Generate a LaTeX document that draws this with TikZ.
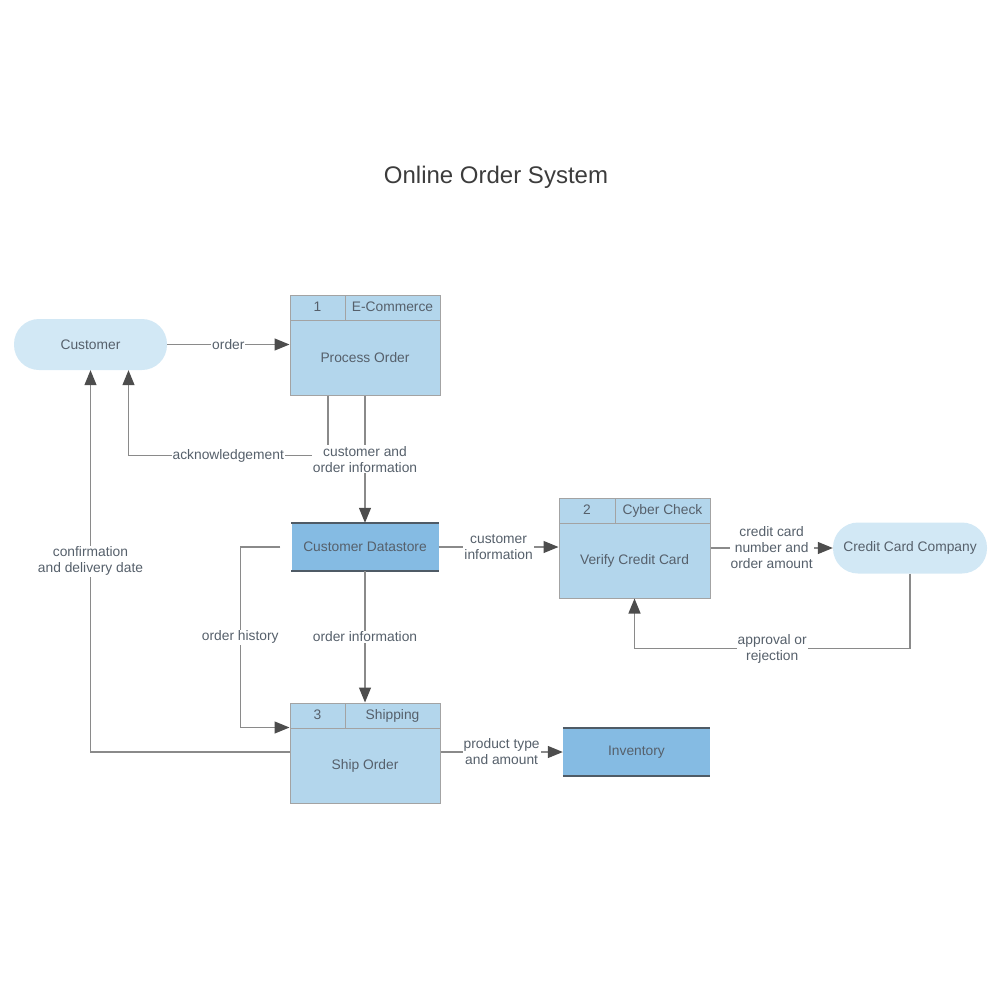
\documentclass[tikz,border=0pt]{standalone}
\usepackage{fontspec}
\setmainfont{Liberation Sans}
\usepackage{tikz}
\usetikzlibrary{arrows.meta,positioning,calc}
\usepackage{xcolor}
\definecolor{pillblue}{HTML}{D2E8F5}
\definecolor{procblue}{HTML}{B3D6EC}
\definecolor{storeblue}{HTML}{85BBE3}
\definecolor{boxgray}{HTML}{A3A3A3}
\definecolor{storeline}{HTML}{4F5B66}
\definecolor{flowgray}{HTML}{8A8A8A}
\definecolor{tipgray}{HTML}{4D4D4D}
\definecolor{textslate}{HTML}{56606B}
\definecolor{titlegray}{HTML}{3C3C3C}

\begin{document}
\begin{tikzpicture}[
  x=1pt, y=-1pt,
  font=\fontsize{13.8}{16}\selectfont,
  text=textslate,
  pill/.style={
    fill=pillblue,
    rounded corners=25pt,
    minimum width=153pt,
    minimum height=51pt,
    inner sep=0pt
  },
  prochead/.style={
    draw=boxgray,
    fill=procblue,
    line width=1pt,
    minimum height=25pt,
    text height=10pt,
    text depth=3pt,
    inner sep=0pt
  },
  procbody/.style={
    draw=boxgray,
    fill=procblue,
    line width=1pt,
    minimum width=150pt,
    minimum height=75pt,
    inner sep=0pt
  },
  datastore/.style={
    fill=storeblue,
    minimum width=147pt,
    minimum height=48pt,
    inner sep=0pt
  },
  flow/.style={
    draw=flowgray,
    line width=1.2pt,
    -{Triangle[length=15pt,width=12pt,color=tipgray]}
  },
  lbl/.style={
    fill=white,
    inner sep=1pt,
    align=center,
    text=textslate
  }
]
  \useasboundingbox (0,0) rectangle (1000,1000);

  % Title
  \node[font=\fontsize{24}{28}\selectfont, text=titlegray] (title) at (496,177) {Online Order System};

  % External entities
  \node[pill] (cust) at (90.5,344.5) {Customer};
  \node[pill, minimum width=154pt] (ccc) at (910,548) {Credit Card Company};

  % Process 1: Process Order
  \node[prochead, minimum width=55pt] (po_id) at (317.5,307.5) {1};
  \node[prochead, minimum width=95pt] (po_tag) at (392.5,307.5) {E-Commerce};
  \node[procbody] (po) at (365,357.5) {Process Order};

  % Process 2: Verify Credit Card
  \node[prochead, minimum width=56pt] (vc_id) at (587,510.5) {2};
  \node[prochead, minimum width=95pt] (vc_tag) at (662.5,510.5) {Cyber Check};
  \node[procbody, minimum width=151pt] (vc) at (634.5,560.5) {Verify Credit Card};

  % Process 3: Ship Order
  \node[prochead, minimum width=55pt] (so_id) at (317.5,715.5) {3};
  \node[prochead, minimum width=95pt] (so_tag) at (392.5,715.5) {Shipping};
  \node[procbody] (so) at (365,765.5) {Ship Order};

  % Data stores (open sides)
  \node[datastore] (ds) at (365,547) {Customer Datastore};
  \draw[storeline, line width=1.5pt] (ds.north west) -- (ds.north east);
  \draw[storeline, line width=1.5pt] (ds.south west) -- (ds.south east);
  \node[datastore] (inv) at (636.5,752) {Inventory};
  \draw[storeline, line width=1.5pt] (inv.north west) -- (inv.north east);
  \draw[storeline, line width=1.5pt] (inv.south west) -- (inv.south east);

  % Data flows
  \draw[flow] (cust.east) -- node[lbl] {order} (cust.east -| po.west);
  \draw[flow] ([xshift=-37pt]po.south) -- ++(0,60) -| node[lbl, pos=0.25] {acknowledgement} ([xshift=38pt]cust.south);
  \draw[flow] (po.south) -- node[lbl] {customer and\\order information} (ds.north);
  \draw[flow] (ds.east) -- node[lbl] {customer\\information} (ds.east -| vc.west);
  \draw[flow] (vc.east |- ccc) -- node[lbl] {credit card\\number and\\order amount} (ccc.west);
  \draw[flow] (ccc.south) -- ++(0,75) -| node[lbl, pos=0.25] {approval or\\rejection} (vc.south);
  \draw[flow] (ds.south) -- node[lbl] {order information} (ds.south |- so_tag.north);
  \draw[flow] ([xshift=-11pt]ds.west) -- ++(-40,0) |- node[lbl, pos=0.25] {order history} (so.north west);
  \draw[flow] (so.west |- inv) -| node[lbl, pos=0.75] {confirmation\\and delivery date} (cust.south);
  \draw[flow] (so.east |- inv) -- node[lbl] {product type\\and amount} (inv.west);

\end{tikzpicture}
\end{document}
